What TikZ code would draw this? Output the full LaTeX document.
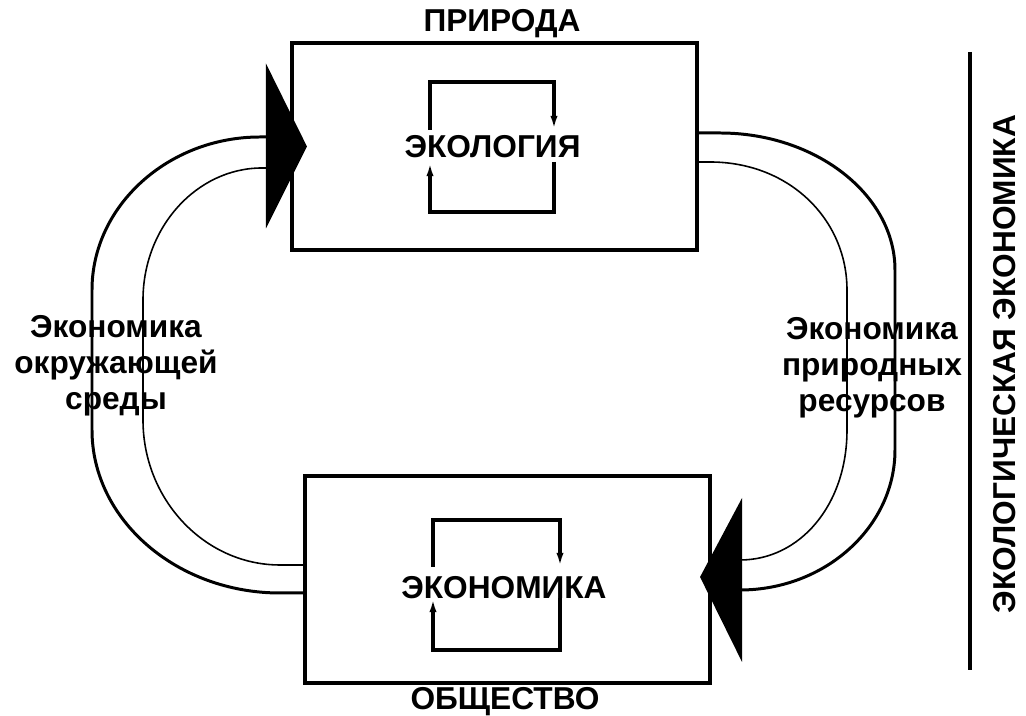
\documentclass[tikz,border=0pt]{standalone}
\usepackage{fontspec}
\setmainfont{Liberation Sans}
\usetikzlibrary{calc,arrows.meta}

\tikzset{
  bigbox/.style={draw, line width=1.1pt, minimum width=4.05cm, minimum height=2.07cm, inner sep=0pt},
  cyclepath/.style={line width=0.9pt, -{Latex[length=4pt,width=2pt]}},
  outerflow/.style={line width=0.85pt},
  innerflow/.style={line width=0.45pt}
}

\begin{document}
\begin{tikzpicture}[x=0.01cm, y=-0.01cm, font=\bfseries\fontsize{9}{10.2}\selectfont]
  \useasboundingbox (0,0) rectangle (1026,716);

  % Блоки
  \node[bigbox] (nature) at (494.5,146.5) {};
  \node[bigbox] (society) at (507.5,579.5) {};
  \node (naturelbl) at (502,24) {ПРИРОДА};
  \node (societylbl) at (505,702) {ОБЩЕСТВО};
  \node (eco) at (492.5,146.5) {ЭКОЛОГИЯ};
  \node (econ) at (504,587.5) {ЭКОНОМИКА};

  % Внутренние контуры
  \draw[cyclepath] (430,130) -- (430,82) -- (554,82) -- (554,130);
  \draw[cyclepath] (554,162) -- (554,212) -- (430,212) -- (430,162);
  \draw[cyclepath] (433,567) -- (433,520) -- (560,520) -- (560,567);
  \draw[cyclepath] (560,598) -- (560,650) -- (433,650) -- (433,598);

  % Потоки
  \draw[outerflow] ($(nature.west)+(0,-9.5)$) -- (260,137) .. controls (168,137) and (92,206) .. (92,290)
    -- (92,430) .. controls (92,520) and (177,593) .. (280,593) -- ($(society.west)+(0,13.5)$);
  \draw[innerflow] ($(nature.west)+(0,21.5)$) -- (262,168) .. controls (197,168) and (143,227) .. (143,300)
    -- (143,420) .. controls (143,500) and (205,565) .. (280,565) -- ($(society.west)+(0,-14.5)$);
  \draw[outerflow] ($(nature.east)+(0,-13.5)$) -- (720,133) .. controls (816,133) and (895,195) .. (895,270)
    -- (895,450) .. controls (895,527) and (825,590) .. (740,590) -- ($(society.east)+(0,10.5)$);
  \draw[innerflow] ($(nature.east)+(0,15.5)$) -- (710,162) .. controls (790,162) and (847,220) .. (847,290)
    -- (847,430) .. controls (847,505) and (800,560) .. (740,560) -- ($(society.east)+(0,-19.5)$);

  % Стрелки
  \fill ($(nature.west)+(17,0)$) -- ++(-41,-83) -- ++(0,165) -- cycle;
  \fill ($(society.east)+(-12,-2.5)$) -- ++(42,-79) -- ++(0,164) -- cycle;

  % Подписи
  \node[align=center] (envlbl) at (116,366) {Экономика\\окружающей\\среды};
  \node[align=center] (reslbl) at (872,368) {Экономика\\природных\\ресурсов};

  % Экологическая экономика
  \coordinate (bartop) at (970,52);
  \coordinate (barbot) at (970,670);
  \draw[line width=1.2pt] (bartop) -- (barbot);
  \node[rotate=90] (ecoecon) at (1005,364) {ЭКОЛОГИЧЕСКАЯ ЭКОНОМИКА};
\end{tikzpicture}
\end{document}
